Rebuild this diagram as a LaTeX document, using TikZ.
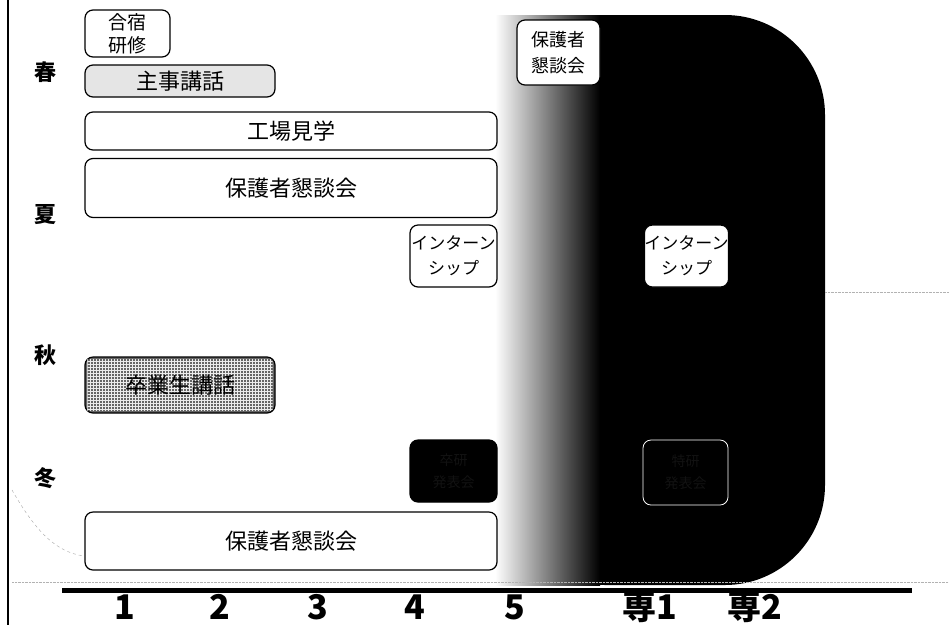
\documentclass[tikz,border=0pt]{standalone}
\usepackage{fontspec}
\newfontfamily\jp{Noto Sans CJK JP}
\usetikzlibrary{patterns}
\begin{document}
\begin{tikzpicture}[x=1pt,y=-1pt,
  evbox/.style={draw=black, line width=1.2pt, rounded corners=8pt, fill=white,
    inner sep=0pt, align=center, font=\jp\fontsize{22}{24}\selectfont},
  smallbox/.style={evbox, font=\jp\fontsize{17}{25}\selectfont},
  season/.style={font=\jp\bfseries\fontsize{22}{22}\selectfont},
  yearlab/.style={font=\jp\bfseries\fontsize{34}{34}\selectfont},
  darkbox/.style={evbox, fill=black, text=black!93, font=\jp\fontsize{14}{22}\selectfont}]
\useasboundingbox (0,0) rectangle (949,625);
\fill[white] (0,0) rectangle (949,625);
% dark band of the advanced course
\fill[black, rounded corners=100pt] (505,15) rectangle (825,585);
\fill[black] (505,15) rectangle (700,585);
\shade[left color=white, middle color=black!65, right color=black] (495,15) rectangle (600,585);
% faint stipple edges
\draw[gray!60, densely dotted] (825,292) -- (949,292);
\draw[gray!60, densely dotted] (12,582) -- (949,582);
\coordinate (cs) at (12,490);
\coordinate (ce) at (84,556);
\draw[gray!70, dashed] (cs) .. controls (35,530) and (55,552) .. (ce);
% left border
\draw[line width=2pt] (8,0) -- (8,625);
% seasons
\node[season] (haru) at (45,72) {春};
\node[season] (natsu) at (45,215) {夏};
\node[season] (aki) at (45,355) {秋};
\node[season] (fuyu) at (45,478) {冬};
% events
\node[evbox, minimum width=85pt, minimum height=47pt, font=\jp\fontsize{19}{23}\selectfont] (gasshuku) at (127.5,33.5) {合宿\\研修};
\node[evbox, minimum width=190pt, minimum height=32pt, fill=gray!20] (shuji) at (180,81) {主事講話};
\node[evbox, minimum width=412pt, minimum height=38pt] (kojo) at (291,131) {工場見学};
\node[evbox, minimum width=412pt, minimum height=59pt] (hogo1) at (291,188) {保護者懇談会};
\node[smallbox, minimum width=87pt, minimum height=62pt] (intern4) at (453.5,256) {インターン\\シップ};
\node[evbox, minimum width=190pt, minimum height=56pt, fill=black!60] (sotsu) at (180,385) {};
\fill[pattern=grid, pattern color=white!85!gray] ([xshift=3pt,yshift=-3pt]sotsu.north west) rectangle ([xshift=-3pt,yshift=3pt]sotsu.south east);
\node[font=\jp\fontsize{22}{24}\selectfont, text=black] (sotsutext) at (sotsu.center) {卒業生講話};
\node[darkbox, minimum width=87pt, minimum height=62pt] (dark4) at (453.5,471) {卒研\\発表会};
\node[evbox, minimum width=412pt, minimum height=58pt] (hogo2) at (291,541) {保護者懇談会};
\node[smallbox, minimum width=83pt, minimum height=65pt, font=\jp\fontsize{18}{26}\selectfont] (hogo5) at (558.5,52.5) {保護者\\懇談会};
\node[smallbox, minimum width=83pt, minimum height=62pt] (intern1) at (686.5,256) {インターン\\シップ};
\node[darkbox, draw=white, line width=0.8pt, minimum width=85pt, minimum height=65pt] (dark1) at (685.5,472.5) {特研\\発表会};
% year axis
\draw[line width=5pt] (62,590) -- (912,590);
\node[yearlab] (y1) at (125,607) {1};
\node[yearlab] (y2) at (220,607) {2};
\node[yearlab] (y3) at (318,607) {3};
\node[yearlab] (y4) at (415,607) {4};
\node[yearlab] (y5) at (515,607) {5};
\node[yearlab] (s1) at (650,607) {専1};
\node[yearlab] (s2) at (755,607) {専2};
\end{tikzpicture}
\end{document}
